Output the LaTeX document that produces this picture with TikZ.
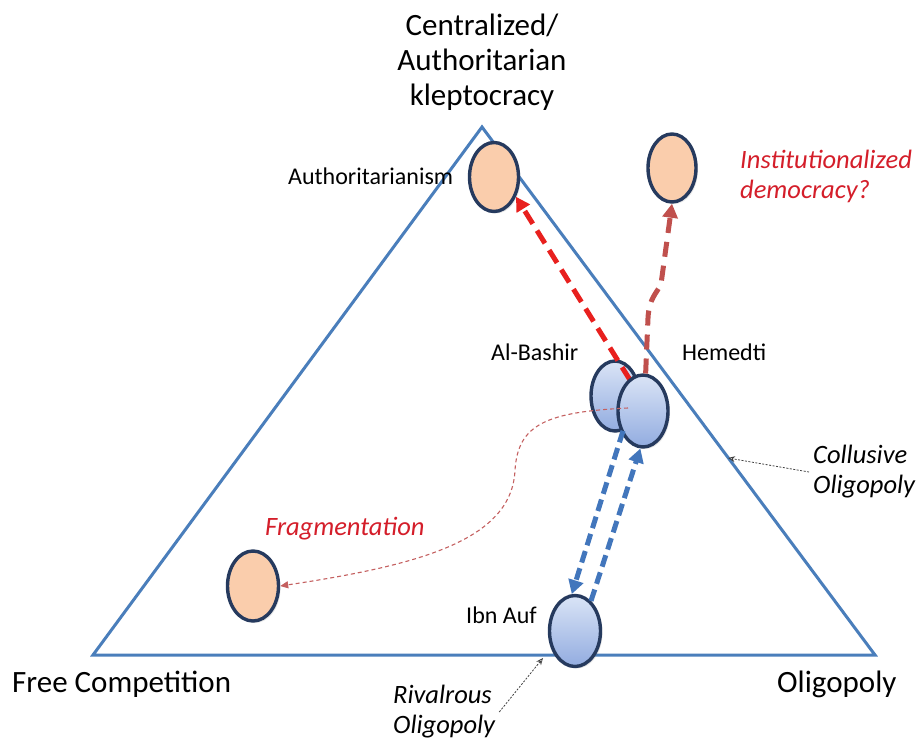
\documentclass[tikz,border=0pt]{standalone}
\usepackage{fontspec}
\setmainfont{Carlito}
\usetikzlibrary{shapes.geometric,arrows.meta,shadows}
\definecolor{triblue}{RGB}{74,126,187}
\definecolor{edgec}{RGB}{38,58,94}
\definecolor{peach}{RGB}{250,205,172}
\definecolor{bluelt}{RGB}{218,228,246}
\definecolor{bluedk}{RGB}{146,172,224}
\definecolor{redarr}{RGB}{232,32,30}
\definecolor{brownarr}{RGB}{192,80,77}
\definecolor{bluearr}{RGB}{66,118,188}
\definecolor{redtxt}{RGB}{212,30,42}
\definecolor{thinred}{RGB}{196,96,96}
\begin{document}
\begin{tikzpicture}[x=1pt,y=-1pt,
  triline/.style={draw=triblue,line width=3pt,line join=miter},
  blob/.style={ellipse,draw=edgec,line width=3.4pt,inner sep=0pt,
    drop shadow={opacity=0.2,shadow xshift=2pt,shadow yshift=-2pt}},
  peachblob/.style={blob,fill=peach},
  blueblob/.style={blob,top color=bluelt,bottom color=bluedk},
  bigtxt/.style={font=\fontsize{31}{35}\selectfont,inner sep=0pt},
  smalltxt/.style={font=\fontsize{24}{28}\selectfont,inner sep=0pt},
  itxt/.style={font=\fontsize{26.5}{30}\itshape\selectfont,align=left},
  bigarrow/.style={line width=5pt,-{Triangle[length=14pt,width=15pt]}},
  notearrow/.style={draw=black!75,line width=0.8pt,dash pattern=on 2pt off 1.5pt,
    -{Stealth[length=7pt,width=6pt,open]}}
]
\useasboundingbox (0,0) rectangle (923,743);
% triangle
\draw[triline] (93,655) -- (482,127) -- (875,655) -- cycle;
\coordinate (colpt) at (728,458);
\coordinate (rivpt) at (543,658);
\coordinate (redstart) at (630,380);
\coordinate (fragstart) at (628,408);

% corner labels
\node[bigtxt,align=center] (title) at (482,62) {Centralized/\\Authoritarian\\kleptocracy};
\node[bigtxt,anchor=base west] (free) at (12,692) {Free Competition};
\node[bigtxt,anchor=base west] (olig) at (777,692) {Oligopoly};

% ellipses
\node[peachblob,minimum width=49pt,minimum height=69pt] (auth) at (494,177) {};
\node[peachblob,minimum width=48pt,minimum height=68pt] (inst) at (672,168) {};
\node[peachblob,minimum width=51pt,minimum height=70pt] (frag) at (253,586) {};
\node[blueblob,minimum width=48pt,minimum height=70pt] (bashir) at (615,396) {};
% red arrow (over Al-Bashir, under Hemedti)
\draw[bigarrow,draw=redarr,dash pattern=on 15pt off 8pt] (redstart) -- (auth.-42);
\node[blueblob,minimum width=50pt,minimum height=72pt] (hem) at (643,411) {};
\node[blueblob,minimum width=51pt,minimum height=71pt] (ibn) at (575,631) {};

% brown arrow to institutionalized democracy
\draw[bigarrow,draw=brownarr,dash pattern=on 15pt off 9pt]
  (hem.86) -- (648,318) .. controls (649,298) and (657,293) .. (661,284) -- (inst.south);

% blue arrows
\draw[bigarrow,draw=bluearr,dash pattern=on 12pt off 6pt] (bashir.283) -- (ibn.95);
\draw[bigarrow,draw=bluearr,dash pattern=on 12pt off 6pt] (ibn.62) -- (hem.266);

% thin red fragmentation curve
\draw[draw=thinred,line width=1.1pt,dash pattern=on 4pt off 3pt,
  -{Triangle[length=8pt,width=7pt]}]
  (fragstart) .. controls (545,412) and (518,425) .. (515,470)
  .. controls (512,540) and (420,565) .. (frag.east);

% labels
\node[smalltxt,anchor=base west] (authlbl) at (288,185) {Authoritarianism};
\node[smalltxt,anchor=base west] (bashlbl) at (491,360) {Al-Bashir};
\node[smalltxt,anchor=base west] (hemlbl) at (682,360) {Hemedti};
\node[smalltxt,anchor=base west] (ibnlbl) at (466,623) {Ibn Auf};
\node[itxt,text=redtxt,anchor=west,inner sep=2pt] (instlbl) at (738,176) {Institutionalized\\democracy?};
\node[itxt,text=redtxt,anchor=base west,inner sep=0pt] (fraglbl) at (265,535) {Fragmentation};
\node[itxt,anchor=west,inner sep=4pt] (collbl) at (809,472) {Collusive\\Oligopoly};
\node[itxt,anchor=west,inner sep=4pt] (rivlbl) at (389,712) {Rivalrous\\Oligopoly};

% note arrows
\draw[notearrow] (collbl.west) -- (colpt);
\draw[notearrow] (rivlbl.east) -- (rivpt);
\end{tikzpicture}
\end{document}
